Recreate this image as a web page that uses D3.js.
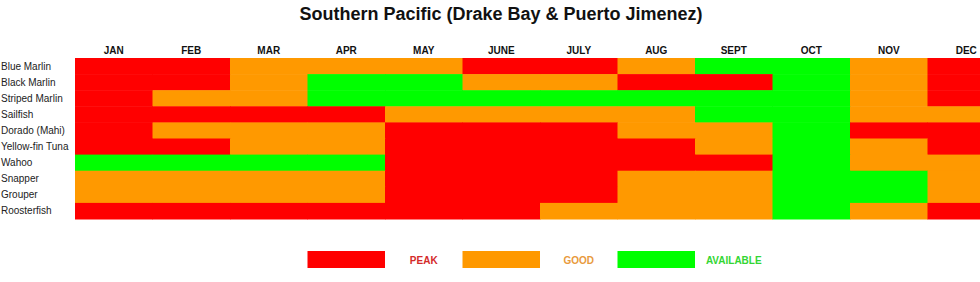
<!DOCTYPE html>
<html>
<head>
    <title>Southern Pacific fishing calendar</title>
    <script src="https://cdn.jsdelivr.net/npm/d3@7"></script>
    <style>
        body { margin: 0; background: #fff; }
        text { font-family: Arial, "Liberation Sans", sans-serif; }
    </style>
</head>
<body>
    <svg width="980" height="282" id="mainsvg"></svg>
    <script>
        const months = ['JAN', 'FEB', 'MAR', 'APR', 'MAY', 'JUNE', 'JULY', 'AUG', 'SEPT', 'OCT', 'NOV', 'DEC'];
        const species = ['Blue Marlin', 'Black Marlin', 'Striped Marlin', 'Sailfish', 'Dorado (Mahi)',
            'Yellow-fin Tuna', 'Wahoo', 'Snapper', 'Grouper', 'Roosterfish'];
        // P = peak, G = good, A = available ; one letter per month
        const ratings = [
            'PPGGGPPGAAGP',
            'PPGAAGGPPAGP',
            'PGGAAAAAAAGP',
            'PPPPGGGGAAGG',
            'PGGGPPPGGAPP',
            'PPGGPPPPGAGP',
            'AAAAPPPPPAGG',
            'GGGGPPPGGAAG',
            'GGGGPPPGGAAG',
            'PPPPPPGGGAGP'
        ];
        const levels = ['P', 'G', 'A'];
        const levelNames = ['PEAK', 'GOOD', 'AVAILABLE'];
        const levelColors = ['#ff0000', '#ff9900', '#00ff00'];
        const labelColors = ['#d42a2a', '#e89a3c', '#33d633'];

        const svg = d3.select('#mainsvg');
        const margin = { top: 58, left: 75 };
        const colW = 77.5;
        const rowH = 16.1;

        const xScale = d3.scaleBand().domain(months)
            .range([margin.left, margin.left + colW * months.length]);
        const yScale = d3.scaleBand().domain(species)
            .range([margin.top, margin.top + rowH * species.length]);
        const color = d3.scaleOrdinal().domain(levels).range(levelColors);

        svg.append('text')
            .attr('x', 501).attr('y', 20)
            .attr('text-anchor', 'middle')
            .attr('font-size', '18px').attr('font-weight', 'bold')
            .attr('fill', '#111')
            .text('Southern Pacific (Drake Bay & Puerto Jimenez)');

        const cells = [];
        species.forEach((s, i) => {
            months.forEach((m, j) => cells.push({ species: s, month: m, level: ratings[i][j] }));
        });

        svg.append('g').selectAll('rect').data(cells).join('rect')
            .attr('x', d => xScale(d.month))
            .attr('y', d => yScale(d.species))
            .attr('width', xScale.bandwidth() + 0.5)
            .attr('height', yScale.bandwidth() + 0.5)
            .attr('fill', d => color(d.level));

        // month headers
        svg.append('g').selectAll('text').data(months).join('text')
            .attr('x', d => xScale(d) + xScale.bandwidth() / 2)
            .attr('y', 54)
            .attr('text-anchor', 'middle')
            .attr('font-size', '10px').attr('font-weight', 'bold')
            .attr('fill', '#111')
            .text(d => d);

        // species labels
        svg.append('g').selectAll('text').data(species).join('text')
            .attr('x', 1)
            .attr('y', d => yScale(d) + yScale.bandwidth() / 2)
            .attr('dy', '0.35em')
            .attr('font-size', '10px')
            .attr('fill', '#222')
            .text(d => d);

        // legend: swatch + label for each level, laid out on the month grid
        const legendSlots = d3.range(levelNames.length * 2);
        const legendX = d3.scaleBand().domain(legendSlots)
            .range([xScale('APR'), xScale('SEPT') + xScale.bandwidth()]);
        const legend = svg.append('g');
        legend.selectAll('rect').data(levelNames).join('rect')
            .attr('x', (d, i) => legendX(i * 2))
            .attr('y', 251)
            .attr('width', legendX.bandwidth())
            .attr('height', 17)
            .attr('fill', (d, i) => levelColors[i]);
        legend.selectAll('text').data(levelNames).join('text')
            .attr('x', (d, i) => legendX(i * 2 + 1) + legendX.bandwidth() / 2)
            .attr('y', 260)
            .attr('dy', '0.35em')
            .attr('text-anchor', 'middle')
            .attr('font-size', '10px').attr('font-weight', 'bold')
            .attr('fill', (d, i) => labelColors[i])
            .text(d => d);
    </script>
</body>
</html>
